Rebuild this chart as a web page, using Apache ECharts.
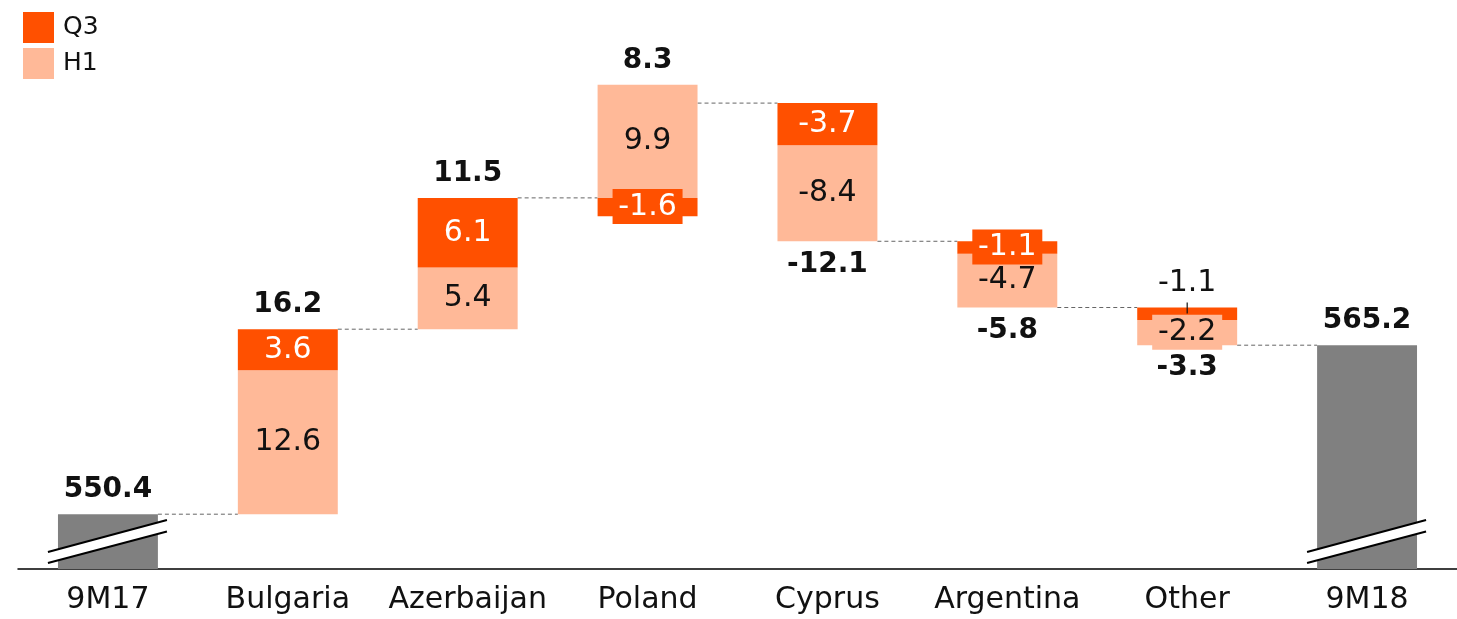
<!DOCTYPE html>
<html>
<head>
<meta charset="utf-8">
<script src="https://cdn.jsdelivr.net/npm/echarts@6/dist/echarts.min.js"></script>
<style>
  html, body { margin: 0; padding: 0; background: #fff; }
  #chart { width: 1457px; height: 619px; }
</style>
</head>
<body>
<div id="chart"></div>
<script>
// Waterfall data
const categories = ['9M17', 'Bulgaria', 'Azerbaijan', 'Poland', 'Cyprus', 'Argentina', 'Other', '9M18']
const startValue = 550.4
const endValue = 565.2
const h1Values = [null, 12.6, 5.4, 9.9, -8.4, -4.7, -2.2, null]
const q3Values = [null, 3.6, 6.1, -1.6, -3.7, -1.1, -1.1, null]
const netLabels = ['550.4', '16.2', '11.5', '8.3', '-12.1', '-5.8', '-3.3', '565.2']

// where small segment labels go
const labelPlacement = {
  Poland: { q3: 'box' },
  Argentina: { q3: 'box' },
  Other: { q3: 'above', h1: 'box' },
}

const Q3_COLOR = '#FF5000'
const H1_COLOR = '#FFB998'
const TOTAL_COLOR = '#808080'
const FONT = '"DejaVu Sans", sans-serif'
const Y_MIN = 545.6
const Y_MAX = 590
const BAR_RATIO = 100 / 180

// build segments
const h1Data = []
const q3Data = []
const netData = []
const linkData = []
const totalData = [[0, startValue], [categories.length - 1, endValue]]

netData.push([0, startValue, startValue, startValue])
linkData.push([0, startValue])
let level = startValue
for (let i = 1; i < categories.length - 1; i++) {
  const base = level
  let up = base
  let down = base
  const segs = {}
  // positives stack upward H1 then Q3, negatives downward Q3 then H1
  ;[['h1', h1Values[i]], ['q3', q3Values[i]]].forEach(([k, v]) => {
    if (v > 0) { segs[k] = [up, up + v]; up += v }
  })
  ;[['q3', q3Values[i]], ['h1', h1Values[i]]].forEach(([k, v]) => {
    if (v < 0) { segs[k] = [down, down + v]; down += v }
  })
  h1Data.push([i, segs.h1[0], segs.h1[1], h1Values[i]])
  q3Data.push([i, segs.q3[0], segs.q3[1], q3Values[i]])
  const net = h1Values[i] + q3Values[i]
  netData.push([i, up, down, net])
  level = base + net
  linkData.push([i, level])
}
netData.push([categories.length - 1, endValue, endValue, endValue])

function segmentRender(key, color, textColor) {
  return function (params, api) {
    const cat = api.value(0)
    const p1 = api.coord([cat, api.value(1)])
    const p2 = api.coord([cat, api.value(2)])
    const v = api.value(3)
    const w = api.size([1, 0])[0] * BAR_RATIO
    const top = Math.min(p1[1], p2[1])
    const h = Math.abs(p1[1] - p2[1])
    const cx = p1[0]
    const cy = top + h / 2
    const mode = (labelPlacement[categories[cat]] || {})[key] || 'inside'
    const children = [{
      type: 'rect',
      shape: { x: cx - w / 2, y: top, width: w, height: h },
      style: { fill: color },
      z2: 0,
    }]
    let ty = cy
    let tColor = textColor
    if (mode === 'box') {
      children.push({
        type: 'rect',
        shape: { x: cx - 35, y: cy - 18, width: 70, height: 35 },
        style: { fill: color },
        z2: 10,
      })
    } else if (mode === 'above') {
      ty = top - 24
      tColor = '#111'
      children.push({
        type: 'line',
        shape: { x1: cx, y1: top - 5, x2: cx, y2: top + 6 },
        style: { stroke: '#111', lineWidth: 1.2 },
        z2: 12,
      })
    }
    children.push({
      type: 'text',
      style: {
        text: v.toFixed(1),
        x: cx,
        y: ty,
        fill: tColor,
        font: '30px ' + FONT,
        align: 'center',
        verticalAlign: 'middle',
      },
      z2: 11,
    })
    return { type: 'group', children }
  }
}

const chart = echarts.init(document.getElementById('chart'))

chart.setOption({
  animation: false,
  legend: {
    data: ['Q3', 'H1'],
    orient: 'vertical',
    left: 18,
    top: 7,
    icon: 'rect',
    itemWidth: 31,
    itemHeight: 31,
    itemGap: 5,
    textStyle: { fontSize: 25, fontFamily: FONT, color: '#111', padding: [0, 0, 0, 4] },
    selectedMode: false,
  },
  grid: {
    left: 18,
    right: 0,
    top: 62,
    bottom: 50,
    containLabel: false,
    outerBoundsMode: 'none',
  },
  xAxis: {
    type: 'category',
    data: categories,
    axisLine: { lineStyle: { color: '#000', width: 1.5 } },
    axisTick: { show: false },
    axisLabel: { interval: 0, fontSize: 30, fontFamily: FONT, color: '#111', margin: 16 },
  },
  yAxis: {
    type: 'value',
    min: Y_MIN,
    max: Y_MAX,
    show: false,
    splitLine: { show: false },
  },
  series: [
    {
      // dashed connectors
      type: 'custom',
      name: 'links',
      z: 1,
      data: linkData,
      renderItem(params, api) {
        const i = api.value(0)
        if (i >= categories.length - 1) return
        const a = api.coord([i, api.value(1)])
        const b = api.coord([i + 1, api.value(1)])
        const w = api.size([1, 0])[0] * BAR_RATIO
        return {
          type: 'line',
          shape: { x1: a[0] + w / 2, y1: a[1], x2: b[0] - w / 2, y2: b[1] },
          style: { stroke: '#666', lineWidth: 1, lineDash: [4, 3] },
        }
      },
    },
    {
      // start / end totals with axis break
      type: 'custom',
      name: 'total',
      z: 2,
      data: totalData,
      renderItem(params, api) {
        const i = api.value(0)
        const base = api.coord([i, Y_MIN])
        const topPt = api.coord([i, api.value(1)])
        const w = api.size([1, 0])[0] * BAR_RATIO
        const cx = base[0]
        const by = base[1]
        return {
          type: 'group',
          children: [
            { type: 'rect', shape: { x: cx - w / 2, y: topPt[1], width: w, height: by - topPt[1] }, style: { fill: TOTAL_COLOR } },
            { type: 'polygon', shape: { points: [[cx - 60, by - 17], [cx + 59, by - 49], [cx + 59, by - 37.5], [cx - 60, by - 6]] }, style: { fill: '#fff' } },
            { type: 'line', shape: { x1: cx - 60, y1: by - 17, x2: cx + 59, y2: by - 49 }, style: { stroke: '#000', lineWidth: 2 } },
            { type: 'line', shape: { x1: cx - 60, y1: by - 6, x2: cx + 59, y2: by - 37.5 }, style: { stroke: '#000', lineWidth: 2 } },
          ],
        }
      },
    },
    {
      type: 'custom',
      name: 'H1',
      z: 2,
      itemStyle: { color: H1_COLOR },
      data: h1Data,
      renderItem: segmentRender('h1', H1_COLOR, '#111'),
    },
    {
      type: 'custom',
      name: 'Q3',
      z: 2,
      itemStyle: { color: Q3_COLOR },
      data: q3Data,
      renderItem: segmentRender('q3', Q3_COLOR, '#fff'),
    },
    {
      // net change labels
      type: 'custom',
      name: 'net',
      z: 3,
      data: netData,
      renderItem(params, api) {
        const i = api.value(0)
        const net = api.value(3)
        const upPt = api.coord([i, api.value(1)])
        const downPt = api.coord([i, api.value(2)])
        const y = net >= 0 ? upPt[1] - 24 : downPt[1] + 23
        return {
          type: 'text',
          style: {
            text: netLabels[i],
            x: upPt[0],
            y: y,
            fill: '#111',
            font: 'bold 28px ' + FONT,
            align: 'center',
            verticalAlign: 'middle',
          },
        }
      },
    },
  ],
})
</script>
</body>
</html>
